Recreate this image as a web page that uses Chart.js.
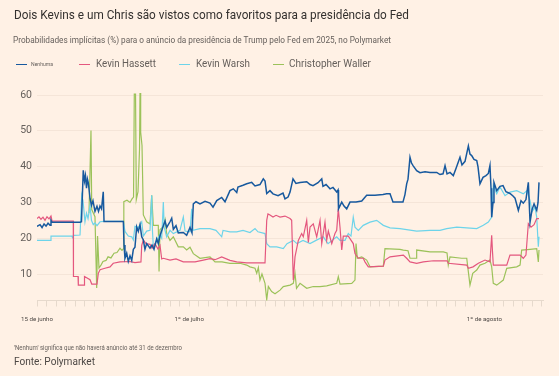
<!DOCTYPE html>
<html lang="pt">
<head>
<meta charset="utf-8">
<script src="https://cdn.jsdelivr.net/npm/chart.js@4.4.1/dist/chart.umd.min.js"></script>
<style>
  html, body { margin: 0; padding: 0; background: #fff1e5; }
  #wrap { position: relative; width: 559px; height: 376px; overflow: hidden; font-family: Roboto, "Open Sans", sans-serif; }
  #wrap canvas { position: absolute; left: 0; top: 0; }
  .txt { position: absolute; white-space: nowrap; line-height: 1; transform-origin: 0 50%; display: inline-block; }
  .sw { position: absolute; height: 1px; }
</style>
</head>
<body>
<div id="wrap">
  <canvas id="chart_fed" width="559" height="376"></canvas>
  <div class="txt" data-fit="395" style="left:14px;top:8px;font-size:13.5px;color:#33302e">Dois Kevins e um Chris são vistos como favoritos para a presidência do Fed</div>
  <div class="txt" data-fit="378" style="left:13px;top:35.5px;font-size:8.5px;color:#66605c">Probabilidades implícitas (%) para o anúncio da presidência de Trump pelo Fed em 2025, no Polymarket</div>

  <div class="sw" style="left:16px;top:64px;width:11px;background:#17599e"></div>
  <div class="txt" data-fit="22" style="left:31px;top:61px;font-size:6px;color:#66605c">Nenhuma</div>
  <div class="sw" style="left:79px;top:64px;width:11px;background:#e4577e"></div>
  <div class="txt" data-fit="60" style="left:96px;top:58.4px;font-size:11px;color:#66605c">Kevin Hassett</div>
  <div class="sw" style="left:179px;top:64px;width:11px;background:#6dd4ea"></div>
  <div class="txt" data-fit="54" style="left:196px;top:58.4px;font-size:11px;color:#66605c">Kevin Warsh</div>
  <div class="sw" style="left:273px;top:64px;width:11px;background:#9cc25a"></div>
  <div class="txt" data-fit="82" style="left:289px;top:58.4px;font-size:11px;color:#66605c">Christopher Waller</div>

  <div class="txt" data-fit="168" style="left:14px;top:344.5px;font-size:6.5px;color:#66605c">'Nenhum' significa que não haverá anúncio até 31 de dezembro</div>
  <div class="txt" data-fit="81" style="left:14px;top:356.5px;font-size:10px;color:#4d4845">Fonte: Polymarket</div>
</div>
<script>
// days counted from 15 June 2025, values in %
var nenhuma = [[0,23.3],[0.32,23.8],[0.53,23.0],[0.74,24.0],[0.95,23.4],[1.16,24.2],[1.37,23.6],[1.47,25.0],[1.58,24.5],
  [4.52,24.5],[4.67,24.6],[4.86,39.0],[4.99,36],[5.09,37.5],[5.20,34],[5.30,36.5],[5.39,35.5],[5.57,31.1],[5.72,29.2],
  [5.88,30.5],[6.09,27.5],[6.30,28.9],[6.46,27.5],[6.62,29],[6.78,28.2],[6.96,33.0],[7.04,24.7],[9.07,24.7],[9.14,18.1],
  [9.24,14.4],[9.42,15.8],[9.59,13.5],[9.77,15.1],[9.95,13.8],[10.12,16.9],[10.29,17.5],[10.47,23.2],[10.64,21.9],
  [10.82,23.8],[11.00,20.4],[11.17,19.5],[11.34,16.9],[11.52,18.5],[11.87,17.2],[12.08,18.1],[12.29,16.9],[12.57,19.8],
  [12.74,18.5],[12.92,20.7],[13.27,23.5],[13.45,24.8],[13.62,23.0],[13.97,24.6],[14.15,25.6],[14.32,22.5],[14.60,23.5],
  [14.84,21.5],[15.37,21.6],[15.72,20.8],[16.07,23.0],[16.28,21.5],[16.42,29.6],[16.70,30.2],[17.12,29.6],[17.65,30.3],
  [18.17,29.8],[18.49,28.7],[18.88,30.5],[19.40,31.4],[19.75,30.2],[20.27,33.3],[20.62,33.8],[20.98,32.8],[21.11,34.3],
  [21.64,34.8],[22.03,35.2],[22.55,35.6],[22.90,34.6],[23.42,35.0],[23.77,36.6],[23.95,36.0],[24.13,32.5],[24.47,33.3],
  [24.79,32.4],[25.32,31.9],[25.84,32.6],[26.05,31.0],[26.37,31.5],[26.58,32.9],[26.89,36.6],[27.20,35.3],[27.63,35.6],
  [28.33,35.8],[28.68,35.0],[28.99,34.7],[29.52,35.5],[29.91,36.6],[30.04,34.5],[30.36,35.0],[30.78,33.8],[31.09,34.2],
  [31.48,32.9],[31.62,33.5],[31.67,28.2],[32.01,30.1],[32.25,29.0],[32.53,28.2],[32.88,30.1],[33.51,30.1],[34.11,30.4],
  [34.63,32.0],[35.50,32.0],[36.34,32.2],[36.73,32.4],[37.08,32.4],[37.39,30.1],[38.44,30.1],[38.65,32.2],[38.83,35.2],
  [38.97,36.5],[39.18,42.6],[39.34,41.0],[39.50,40.3],[39.88,38.9],[40.23,38.3],[40.76,38.6],[41.28,38.4],[41.99,38.4],
  [42.33,37.8],[42.65,38.0],[42.86,40.3],[43.07,38.0],[43.38,38.4],[43.73,37.5],[44.01,39.5],[44.43,42.6],[44.64,40.5],
  [44.96,41.5],[45.31,45.8],[45.48,43.5],[45.66,43.1],[45.90,42.0],[46.19,41.7],[46.32,40.0],[46.53,35.2],[46.85,37.0],
  [47.16,37.5],[47.41,38.1],[47.58,40.3],[47.69,34.0],[47.76,25.9],[47.90,30.0],[48.00,35.6],[48.29,33.3],[48.63,34.5],
  [48.95,34.7],[49.26,33.0],[49.68,32.5],[50.00,31.8],[50.21,31.2],[50.56,27.8],[50.84,30.5],[51.08,29.8],[51.36,30.8],
  [51.61,35.6],[51.79,24.5],[52.00,28.0],[52.21,29.6],[52.49,27.8],[52.63,30.0],[52.73,35.6]];

var hassett = [[0,25.5],[0.21,26.0],[0.42,25.3],[0.63,25.9],[0.84,25.0],[1.05,26.0],[1.26,25.4],[1.47,26.2],[1.58,24.8],
  [3.81,24.8],[3.83,9.3],[4.31,9.3],[4.34,6.9],[4.94,6.9],[4.99,9.3],[5.57,8.4],[5.75,7.2],[6.30,7.2],[6.44,10.2],
  [6.62,11.2],[7.14,11.6],[7.67,12.0],[8.01,13.0],[8.72,13.4],[9.77,13.5],[10.29,13.2],[10.92,13.4],[11.00,18.0],
  [11.17,19.5],[11.45,18.5],[11.87,18.3],[12.08,17.2],[12.39,18.5],[12.71,17.0],[12.92,18.0],[13.10,14.2],[13.27,14.4],
  [13.97,13.9],[14.60,14.2],[15.37,13.4],[16.60,13.4],[17.47,13.9],[18.17,14.3],[18.70,14.0],[19.40,14.8],[20.27,13.8],
  [20.98,13.4],[22.03,13.1],[23.95,13.1],[24.13,25.0],[24.26,26.8],[24.47,26.5],[24.79,25.9],[25.11,26.4],[25.53,25.9],
  [26.05,26.2],[26.58,25.5],[26.75,25.0],[26.92,8.3],[27.10,14.8],[27.45,19.4],[27.80,21.3],[27.97,20.4],[28.33,25.0],
  [28.50,18.8],[28.68,23.1],[29.02,24.0],[29.38,20.4],[29.73,25.0],[29.91,18.5],[30.25,24.5],[30.43,19.5],[30.60,22.0],
  [30.96,18.5],[31.30,21.3],[31.48,22.2],[31.65,28.2],[31.83,23.0],[32.01,16.7],[32.17,20.6],[32.70,20.6],[33.22,18.5],
  [33.40,15.7],[33.75,14.4],[34.27,14.4],[34.45,13.4],[34.80,12.0],[36.38,12.2],[36.55,13.9],[37.08,14.8],[38.48,15.3],
  [38.83,14.4],[39.18,13.4],[39.88,13.0],[40.58,13.4],[41.63,13.7],[43.07,13.7],[43.20,13.0],[45.14,12.5],[45.31,11.6],
  [45.80,12.0],[46.36,13.0],[47.06,13.9],[47.58,13.4],[47.76,20.8],[47.85,16.0],[47.93,12.5],[49.34,12.5],[49.68,15.3],
  [50.74,15.3],[51.08,14.4],[51.36,15.3],[51.61,24.1],[51.89,23.1],[52.21,23.8],[52.49,25.5],[52.73,25.5]];

var warsh = [[0,19.4],[1.42,19.4],[1.47,20.6],[3.65,20.6],[3.73,20.2],[3.81,20.8],[4.52,20.9],[4.70,32.0],[4.83,30.5],
  [5.04,24.6],[5.20,27],[5.36,25.5],[5.57,29.2],[5.72,25.0],[5.91,23.8],[6.09,24.3],[6.30,23.5],[6.62,24.6],[7.04,24.7],
  [9.07,24.7],[9.24,21.9],[9.59,20.6],[9.95,20.4],[10.12,19.5],[10.29,23.3],[10.64,23.0],[11.00,24.6],[11.17,20.6],
  [11.52,22.0],[11.87,22.2],[12.05,32.0],[12.13,22.0],[12.22,17.6],[12.57,19.4],[12.92,21.0],[13.10,20.0],[13.27,30.1],
  [13.36,23.1],[13.62,20.4],[13.97,22.2],[14.32,21.3],[15.02,22.2],[15.37,25.9],[15.55,22.0],[16.07,21.8],[16.25,28.2],
  [16.39,22.2],[17.12,22.7],[18.17,22.7],[18.80,22.2],[19.40,20.4],[19.54,22.2],[20.27,21.8],[20.98,21.8],[21.64,22.2],
  [22.37,21.6],[22.90,22.7],[23.21,21.8],[23.95,21.3],[24.13,18.5],[24.47,17.6],[25.18,17.6],[25.87,17.1],[26.26,18.5],
  [26.92,19.4],[27.31,18.5],[27.94,19.4],[28.68,18.5],[29.31,19.4],[30.07,20.4],[30.57,18.5],[31.48,20.4],[31.83,19.4],
  [32.35,19.4],[32.70,21.3],[32.98,20.6],[33.22,25.9],[33.40,23.1],[33.75,22.2],[34.27,23.6],[34.98,24.5],[35.68,25.0],
  [36.38,23.6],[37.08,22.9],[38.13,22.7],[39.88,22.0],[41.28,22.2],[42.33,22.2],[43.04,22.7],[44.09,23.1],[45.14,22.9],
  [46.19,22.7],[46.88,23.6],[47.41,24.5],[47.76,25.9],[47.93,34.7],[48.29,32.4],[48.63,34.3],[49.16,31.9],[49.68,32.9],
  [50.39,33.3],[51.08,32.4],[51.47,33.3],[51.79,30.5],[52.00,27.4],[52.31,28.7],[52.49,25.9],[52.66,17.6],[52.73,20.4]];

var waller = [[5.46,27.0],[5.67,50.1],[5.75,28.0],[6.09,26.0],[6.27,6.1],[6.36,20.6],[6.51,11.7],[6.72,12.5],[6.93,13.5],
  [7.25,13.8],[7.46,14.8],[7.77,14.5],[8.09,15.8],[8.40,16.0],[8.72,17.2],[8.93,16.6],[9.07,17.0],[9.12,30.2],[9.45,30.6],
  [9.77,30.0],[9.98,31.0],[10.14,31.5],[10.22,60.3],[10.35,60.3],[10.43,30.8],[10.61,33.0],[10.77,45.0],[10.82,60.6],
  [10.89,49.6],[11.03,45.9],[11.17,26.5],[11.52,24.6],[11.87,24.0],[12.05,32.0],[12.22,23.6],[12.74,23.6],[12.82,10.7],
  [12.92,22.4],[13.27,23.3],[13.45,25.2],[13.62,21.3],[13.97,19.4],[14.32,20.4],[14.84,17.6],[15.37,17.6],[15.72,16.7],
  [16.07,17.5],[16.42,15.7],[17.12,14.4],[18.17,14.8],[18.70,13.4],[19.43,13.4],[20.27,13.0],[21.32,13.0],[22.03,12.5],
  [22.37,12.0],[22.90,11.6],[23.08,10.2],[23.25,11.8],[23.42,8.3],[23.63,10.0],[23.95,7.4],[24.13,2.8],[24.30,6.5],
  [24.65,5.1],[25.00,4.5],[25.53,5.5],[25.87,6.5],[26.58,6.9],[26.92,7.4],[27.10,10.2],[27.26,6.0],[27.63,7.4],[28.33,6.0],
  [29.02,6.5],[29.73,6.5],[30.43,6.7],[31.48,7.4],[31.65,9.3],[31.83,7.2],[33.06,7.4],[33.40,8.3],[33.51,18.5],[33.65,14.4],
  [34.11,14.8],[34.63,13.9],[34.98,12.0],[36.38,12.2],[36.55,17.1],[38.13,16.9],[38.48,16.7],[38.97,16.5],[39.18,14.4],
  [39.81,14.4],[39.88,16.7],[41.28,16.2],[42.68,16.2],[43.07,15.9],[43.20,12.5],[43.38,14.8],[44.61,14.4],[45.14,14.4],
  [45.31,10.6],[45.48,6.9],[45.77,10.2],[46.19,11.1],[46.53,12.5],[47.06,13.0],[47.58,13.9],[47.76,12.0],[47.93,7.4],
  [48.29,6.9],[48.98,8.3],[49.34,11.6],[50.39,12.0],[50.74,12.5],[50.91,16.7],[51.79,16.9],[52.49,17.1],[52.66,13.4],[52.73,16.7]];

var seriesNames = ['Nenhuma', 'Kevin Hassett', 'Kevin Warsh', 'Christopher Waller'];
var seriesData = [nenhuma, hassett, warsh, waller];
var seriesColors = ['#17599e', '#e4577e', '#6dd4ea', '#9cc25a'];
var yTicks = [10, 20, 30, 40, 50, 60];
var xTickDays = [0, 16, 47];
var xTickNames = ['15 de junho', '1º de julho', '1º de agosto'];
var lastDay = 53;

var datasets = seriesData.map(function (pts, i) {
  return {
    label: seriesNames[i],
    data: pts.map(function (p) { return { x: p[0], y: p[1] }; }),
    borderColor: seriesColors[i],
    borderWidth: i === 0 ? 1.5 : 1.2,
    pointRadius: 0,
    tension: 0,
    fill: false
  };
});

var chart_fed = new Chart(document.getElementById('chart_fed'), {
  type: 'line',
  data: { datasets: datasets },
  options: {
    animation: false,
    responsive: false,
    devicePixelRatio: 1,
    layout: { padding: { left: 14, right: 16, top: 91.5, bottom: 45.5 } },
    plugins: {
      legend: { display: false },
      title: { display: false },
      tooltip: { enabled: false }
    },
    scales: {
      x: {
        type: 'linear',
        min: 0,
        max: 53.15,
        afterBuildTicks: function (scale) {
          var t = [];
          for (var d = 0; d <= lastDay; d++) t.push({ value: d });
          scale.ticks = t;
        },
        afterFit: function (scale) { scale.height = 30; },
        grid: { drawOnChartArea: false, drawTicks: true, tickLength: 6, tickColor: '#e6d9cc' },
        border: { display: true, color: '#e6d9cc' },
        ticks: {
          autoSkip: false,
          maxRotation: 0,
          padding: 9,
          color: '#4d4845',
          font: { family: 'Roboto', size: 6.2 },
          callback: function (v) {
            var k = xTickDays.indexOf(v);
            return k >= 0 ? xTickNames[k] : '';
          }
        }
      },
      y: {
        min: 2.6,
        max: 61,
        afterBuildTicks: function (scale) {
          scale.ticks = yTicks.map(function (v) { return { value: v }; });
        },
        afterFit: function (scale) { scale.width = 23; },
        grid: { color: '#f5e5d8', drawTicks: false },
        border: { display: false },
        ticks: { padding: 5, color: '#66605c', font: { family: 'Roboto', size: 10.5 } }
      }
    }
  }
});

document.querySelectorAll('[data-fit]').forEach(function (el) {
  var w = el.getBoundingClientRect().width;
  if (w > 0) el.style.transform = 'scaleX(' + (+el.dataset.fit / w) + ')';
});
</script>
</body>
</html>
